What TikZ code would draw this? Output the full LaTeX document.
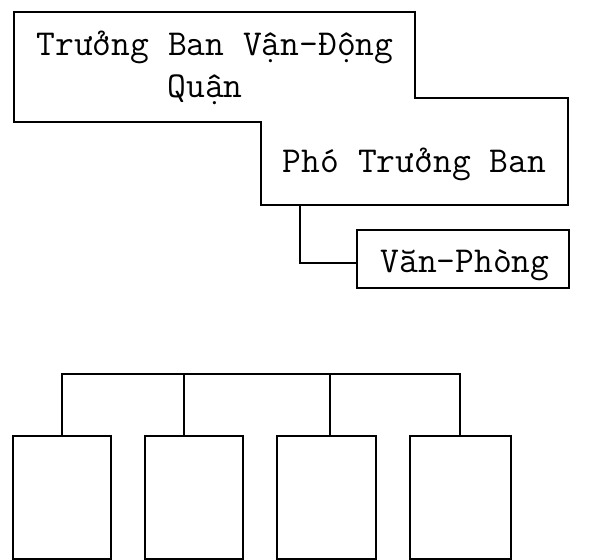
\documentclass[tikz,border=0pt]{standalone}
\usepackage{fontspec}
\begin{document}
\begin{tikzpicture}[x=1pt,y=-1pt,
  shapebox/.style={draw=none,minimum width=#1,inner sep=0pt},
  frame/.style={draw,line width=1.8pt},
  wire/.style={draw,line width=1.6pt},
  txt/.style={font=\ttfamily\fontsize{36.5}{36.5}\selectfont,anchor=base,inner sep=0pt}]
\useasboundingbox (0,0) rectangle (603,560);
% top boxes (outline of their union)
\node[shapebox=401pt,minimum height=110pt] (chief) at (214.5,67) {};
\node[shapebox=307pt,minimum height=107pt] (deputy) at (414.5,151.5) {};
\draw[frame] (chief.north west) -- (chief.north east) -- (chief.east |- deputy.north)
  -- (deputy.north east) -- (deputy.south east) -- (deputy.south west)
  -- (deputy.west |- chief.south) -- (chief.south west) -- cycle;
\node[txt] (t1) at (215,55) {Trưởng Ban Vận-Động};
\node[txt] (t2) at (205,97) {Quận};
\node[txt] (t3) at (414.5,172) {Phó Trưởng Ban};
% office
\node[frame,minimum width=212pt,minimum height=58pt,inner sep=0pt] (office) at (463,259) {};
\node[txt] (t4) at (465,272) {Văn-Phòng};
\coordinate (k) at (300,263);
\draw[wire] (k |- deputy.south) -- (k) -- (k -| office.west);
% bottom boxes
\node[frame,minimum width=98pt,minimum height=123pt,inner sep=0pt] (b1) at (62,497.5) {};
\node[frame,minimum width=98pt,minimum height=123pt,inner sep=0pt] (b2) at (194,497.5) {};
\node[frame,minimum width=99pt,minimum height=123pt,inner sep=0pt] (b3) at (326.5,497.5) {};
\node[frame,minimum width=101pt,minimum height=123pt,inner sep=0pt] (b4) at (460.5,497.5) {};
\coordinate (busL) at (62,374);
\coordinate (busR) at (460,374);
\coordinate (j2) at (184,374);
\coordinate (j3) at (330,374);
\draw[wire] (b1.north) -- (busL) -- (busR) -- (busR |- b4.north);
\draw[wire] (j2) -- (j2 |- b2.north);
\draw[wire] (j3) -- (j3 |- b3.north);
\end{tikzpicture}
\end{document}
